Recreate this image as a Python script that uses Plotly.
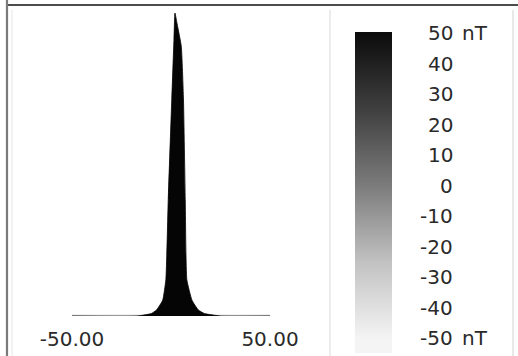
import plotly.graph_objects as go

W, H = 518, 356

# Profile of the anomaly (position, field in nT)
profile_x = [-50, -17, -10, -7.3, -4.2, -2.6, -1.4, 0.4, 1.5, 2.0, 3.2, 5.2, 6.3, 7.2, 8.0, 10.6, 13.8, 17, 25, 50]
profile_nT = [0, 0, 0.4, 1.0, 2.6, 6.0, 19.2, 35.8, 45.7, 50, 48, 44.5, 35.8, 19.2, 6.0, 2.6, 1.0, 0.4, 0, 0]

axis_ticks = [-50, 50]
axis_ticktext = ["-50.00", "50.00"]

# Colour scale legend
scale_levels = [-50, -40, -30, -20, -10, 0, 10, 20, 30, 40, 50]
scale_numbers = ["-50", "-40", "-30", "-20", "-10", "0", "10", "20", "30", "40", "50"]
scale_units = {"-50": "nT", "50": "nT"}

FONT = "DejaVu Sans, Liberation Sans, Arial"
TXT = "#2a2a2a"

def px(xp):
    return xp / W

def py(yp):
    return 1 - yp / H

fig = go.Figure()

fig.add_trace(go.Scatter(
    x=[axis_ticks[0], axis_ticks[-1]], y=[0, 0], mode="lines",
    line=dict(color="#c4c4c4", width=2.5), hoverinfo="skip", showlegend=False,
    xaxis="x", yaxis="y"))

fig.add_trace(go.Scatter(
    x=profile_x, y=profile_nT, mode="lines", fill="tozeroy",
    fillcolor="#050505", line=dict(color="#050505", width=0.8, shape="spline", smoothing=0.4),
    showlegend=False, xaxis="x", yaxis="y"))

fig.add_trace(go.Heatmap(
    x=[0], y=scale_levels, z=[[v] for v in scale_levels],
    zmin=-50, zmax=50, zsmooth="best", showscale=False,
    colorscale=[[0, "#f4f4f4"], [0.25, "#c2c2c2"], [0.5, "#7c7c7c"], [0.75, "#404040"], [1, "#0c0c0c"]],
    xaxis="x2", yaxis="y2", hoverinfo="skip"))

annotations = []
for lv, num in zip(scale_levels, scale_numbers):
    annotations.append(dict(
        x=px(455), y=lv, xref="paper", yref="y2", text=num, showarrow=False,
        xanchor="right", yanchor="middle", font=dict(family=FONT, size=20, color=TXT)))
    if num in scale_units:
        annotations.append(dict(
            x=px(460), y=lv, xref="paper", yref="y2", text=scale_units[num], showarrow=False,
            xanchor="left", yanchor="middle", font=dict(family=FONT, size=20, color=TXT)))

shapes = [
    dict(type="line", xref="paper", yref="paper", x0=px(330), x1=px(330), y0=py(10), y1=py(356),
         line=dict(color="#ececec", width=2)),
    dict(type="line", xref="paper", yref="paper", x0=px(513), x1=px(513), y0=py(10), y1=py(356),
         line=dict(color="#e8e8e8", width=2)),
    dict(type="line", xref="paper", yref="paper", x0=px(12), x1=px(12), y0=py(10), y1=py(356),
         line=dict(color="#f2f2f2", width=2)),
    dict(type="line", xref="paper", yref="paper", x0=px(7), x1=px(518), y0=py(5), y1=py(5),
         line=dict(color="#111111", width=1.6)),
    dict(type="line", xref="paper", yref="paper", x0=px(7), x1=px(7), y0=py(0), y1=py(356),
         line=dict(color="#7a7a7a", width=2.2)),
]

# colour bar axis: 50 at px 33, -50 at px 338
per_px = 100 / (338 - 33)
y2_top = 50 + (33 - 32) * per_px
y2_bot = -50 - (356 - 338) * per_px

fig.update_layout(
    width=W, height=H, margin=dict(l=0, r=0, t=0, b=0, pad=0, autoexpand=False),
    paper_bgcolor="white", plot_bgcolor="rgba(0,0,0,0)",
    xaxis=dict(domain=[px(72), px(270)], range=[-50, 50], tickvals=axis_ticks, ticktext=axis_ticktext,
               ticks="outside", ticklen=5, tickcolor="rgba(0,0,0,0)", showgrid=False, zeroline=False,
               showline=False, automargin=False,
               tickfont=dict(family=FONT, size=20, color=TXT), fixedrange=True),
    yaxis=dict(domain=[py(316), py(13)], range=[0, 50], visible=False, automargin=False, fixedrange=True),
    xaxis2=dict(domain=[px(355), px(392)], range=[-0.5, 0.5], visible=False, anchor="y2", automargin=False),
    yaxis2=dict(domain=[0, py(32)], range=[y2_bot, y2_top], visible=False, anchor="x2", automargin=False),
    annotations=annotations, shapes=shapes,
)

fig.write_html("out.html")
